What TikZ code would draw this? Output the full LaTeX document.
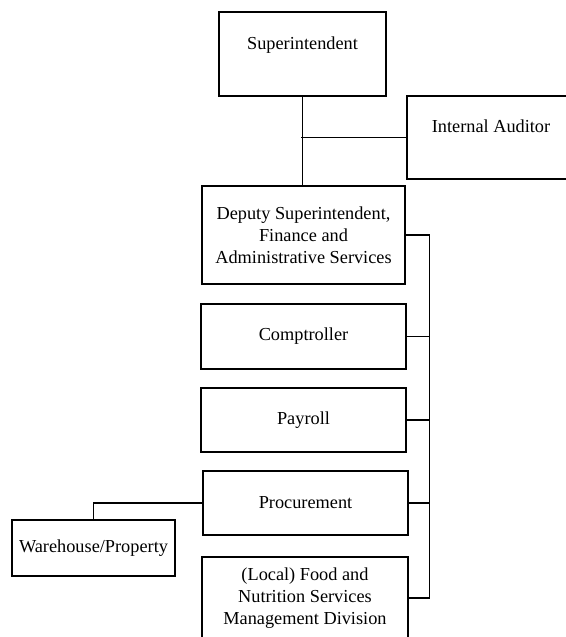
\documentclass[tikz,border=0pt]{standalone}
\usepackage{fontspec}
\setmainfont{Liberation Serif}
\begin{document}
\begin{tikzpicture}[x=1pt, y=-1pt,
  orgbox/.style={draw, line width=1.3pt, inner xsep=0pt, inner ysep=0pt,
    align=center, font=\fontsize{18.3}{21.8}\selectfont},
  link/.style={line width=1.4pt}]
\useasboundingbox (0,0) rectangle (565,637);

% boxes
\node[orgbox, minimum width=167pt, minimum height=84pt,
      text height=12pt, text depth=22pt] (sup) at (302.5,54) {Superintendent};
\node[orgbox, minimum width=168pt, minimum height=83pt,
      text height=12pt, text depth=23pt] (aud) at (491,137.5) {Internal Auditor};
\node[orgbox, minimum width=203pt, minimum height=98pt] (dep) at (303.5,235)
  {Deputy Superintendent,\\Finance and\\Administrative Services};
\node[orgbox, minimum width=205pt, minimum height=65pt] (comp) at (303.5,336.5) {Comptroller};
\node[orgbox, minimum width=205pt, minimum height=64pt] (pay) at (303.5,420) {Payroll};
\node[orgbox, minimum width=205pt, minimum height=64pt] (proc) at (305.5,503) {Procurement};
\node[orgbox, minimum width=206pt, minimum height=82pt] (local) at (305,598)
  {(Local) Food and\\Nutrition Services\\Management Division};
\node[orgbox, minimum width=163pt, minimum height=56pt] (ware) at (93.5,548) {Warehouse/Property};

% connectors
\coordinate (bus) at (429.5,0);
\coordinate (tap) at (301,0);
\draw[link] (sup.south) -- (sup.south |- dep.north);
\draw[link] (tap |- aud.west) -- (aud.west);
\draw[link] (dep.east) -| (bus |- local.east) -- (local.east);
\draw[link] (comp.east) -- (comp.east -| bus);
\draw[link] (pay.east) -- (pay.east -| bus);
\draw[link] (proc.east) -- (proc.east -| bus);
\draw[link] (proc.west) -| (ware.north);
\end{tikzpicture}
\end{document}
